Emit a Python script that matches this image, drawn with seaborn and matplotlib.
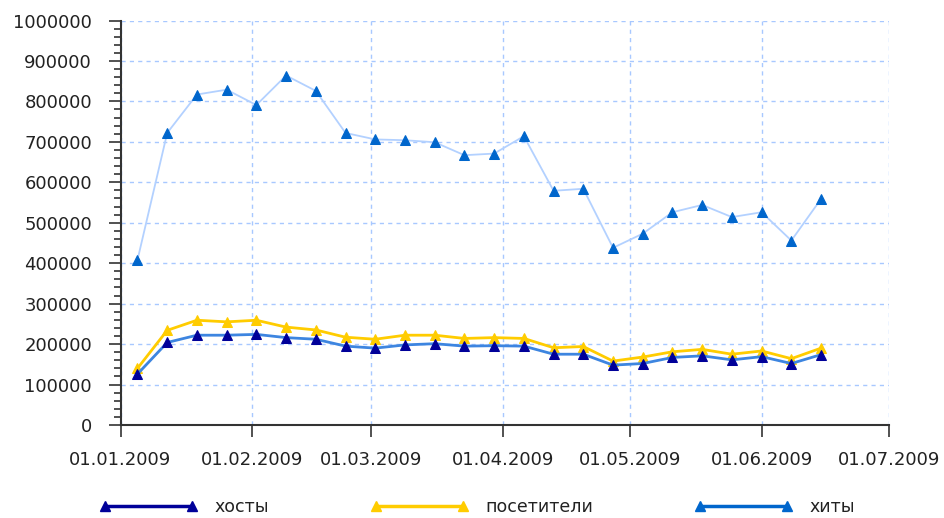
import seaborn as sns
import numpy as np
import matplotlib.pyplot as plt
import matplotlib.dates as mdates
from matplotlib.lines import Line2D
from matplotlib.ticker import MultipleLocator
import pandas as pd

# weekly stats, 2009
dates = pd.date_range("2009-01-05", periods=24, freq="7D")

hits = [408000, 722000, 817000, 829000, 791000, 864000, 826000, 722000,
        706000, 704000, 699000, 667000, 671000, 714000, 579000, 584000,
        438000, 473000, 526000, 544000, 514000, 526000, 456000, 559000]
visitors = [140000, 234000, 259000, 255000, 259000, 242000, 235000, 217000,
            212000, 222000, 222000, 214000, 216000, 214000, 191000, 194000,
            158000, 168000, 181000, 187000, 175000, 183000, 164000, 190000]
hosts = [126000, 204000, 222000, 222000, 224000, 216000, 212000, 195000,
         190000, 198000, 201000, 195000, 196000, 195000, 175000, 175000,
         148000, 152000, 167000, 171000, 161000, 169000, 152000, 174000]

labels = ["хосты", "посетители", "хиты"]

df = pd.DataFrame({"date": dates, "hits": hits, "visitors": visitors, "hosts": hosts})

sns.set_theme(style="white")
plt.rcParams["font.family"] = ["DejaVu Sans"]
plt.rcParams["text.color"] = "#222222"

fig = plt.figure(figsize=(9.44, 5.18), dpi=100)
ax = fig.add_axes([120.5 / 944, 1 - 425 / 518, (889 - 120.5) / 944, (425 - 20.5) / 518])

# hits: light line, blue markers
sns.lineplot(data=df, x="date", y="hits", ax=ax, color="#b3d1ff", linewidth=1.3,
             marker="^", markersize=7, markerfacecolor="#0066cc",
             markeredgecolor="#0066cc", legend=False)
# visitors
sns.lineplot(data=df, x="date", y="visitors", ax=ax, color="#ffcc00", linewidth=2,
             marker="^", markersize=7, markerfacecolor="#ffcc00",
             markeredgecolor="#ffcc00", legend=False)
# hosts: blue line, navy markers
sns.lineplot(data=df, x="date", y="hosts", ax=ax, color="#3d85e0", linewidth=2,
             marker="^", markersize=7, markerfacecolor="#000099",
             markeredgecolor="#000099", legend=False)

ax.set_xlim(pd.Timestamp("2009-01-01"), pd.Timestamp("2009-07-01"))
ax.set_ylim(0, 1000000)
ax.xaxis.set_major_locator(mdates.MonthLocator())
ax.xaxis.set_major_formatter(mdates.DateFormatter("%d.%m.%Y"))
ax.yaxis.set_major_locator(MultipleLocator(100000))
ax.yaxis.set_minor_locator(MultipleLocator(20000))
ax.yaxis.set_major_formatter(plt.FuncFormatter(lambda v, p: f"{int(v)}"))

ax.set_xlabel("")
ax.set_ylabel("")

ax.grid(True, which="major", color="#a8c8ff", linestyle=(0, (3, 3)), linewidth=1)
ax.set_axisbelow(True)

for s in ["top", "right"]:
    ax.spines[s].set_visible(False)
for s in ["left", "bottom"]:
    ax.spines[s].set_color("#333333")
    ax.spines[s].set_linewidth(1.5)

ax.tick_params(axis="x", which="major", direction="out", length=8.5, width=1.2,
               color="#333333", pad=10, labelsize=13, labelcolor="#222222", bottom=True)
ax.tick_params(axis="y", which="major", direction="out", length=8.5, width=1.2,
               color="#333333", pad=12, labelsize=13, labelcolor="#222222", left=True)
ax.tick_params(axis="y", which="minor", direction="out", length=5, width=1.2,
               color="#333333", left=True)

handles = [
    Line2D([], [], color="#000099", linewidth=2.5, marker="^", markersize=7),
    Line2D([], [], color="#ffcc00", linewidth=2.5, marker="^", markersize=7),
    Line2D([], [], color="#0066cc", linewidth=2.5, marker="^", markersize=7),
]
fig.legend(handles, labels, loc="center left", bbox_to_anchor=(100 / 944, 1 - 507 / 518),
           ncol=3, frameon=False, fontsize=12.5, numpoints=2, handlelength=5.6,
           handletextpad=1.0, columnspacing=5.85, borderpad=0, borderaxespad=0)

fig.savefig("out.png", dpi=100)
